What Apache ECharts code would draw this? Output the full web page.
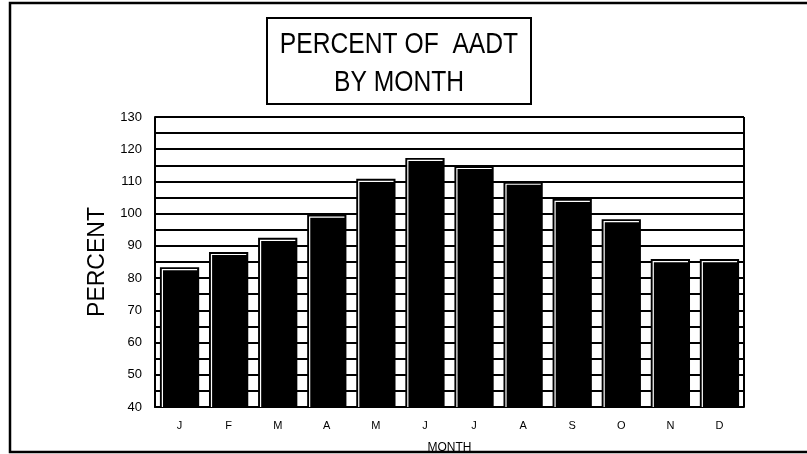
<!DOCTYPE html>
<html><head><meta charset="utf-8">
<script src="https://cdn.jsdelivr.net/npm/echarts@6/dist/echarts.min.js"></script>
<style>html,body{margin:0;padding:0;background:#fff}#c{width:807px;height:454px}</style>
</head><body><div id="c"></div>
<script>
const months = ['J','F','M','A','M','J','J','A','S','O','N','D'];
const percentValues = [83.4, 88.1, 92.5, 99.7, 110.8, 117.3, 114.8, 109.9, 104.6, 98.3, 85.9, 85.9];
const yMin = 40, yMax = 130, yStep = 5;
const titleLines = ['PERCENT OF  AADT', 'BY MONTH'];

const chart = echarts.init(document.getElementById('c'), null, {renderer:'canvas'});
const FONT = '"Liberation Sans", Arial, sans-serif';

function renderBar(params, api){
  const cat = api.value(0), v = api.value(1);
  const top = api.coord([cat, v]);
  const base = api.coord([cat, yMin]);
  const w = api.size([1,0])[0]*0.8;
  const x = top[0]-w/2, y = top[1], h = base[1]-top[1];
  return {type:'group', children:[
    {type:'rect', shape:{x:x, y:y, width:w, height:h}, style:{fill:'#000'}},
    {type:'polyline', shape:{points:[[x+2.5, base[1]], [x+2.5, y+2.5], [x+w-2, y+2.5]]},
     style:{stroke:'#fff', lineWidth:1.2, fill:null}}
  ]};
}

chart.setOption({
  animation:false,
  backgroundColor:'#fff',
  grid:{left:155, right:63, top:117, bottom:47, show:false, containLabel:false, outerBoundsMode:'none'},
  xAxis:{type:'category', data:months, boundaryGap:true,
    axisLine:{show:true, lineStyle:{color:'#000', width:2}}, axisTick:{show:false},
    axisLabel:{color:'#000', fontFamily:FONT, fontSize:11, margin:13},
    name:'MONTH', nameLocation:'middle', nameGap:35,
    nameTextStyle:{color:'#000', fontFamily:FONT, fontSize:12},
    splitLine:{show:false}},
  yAxis:{type:'value', min:yMin, max:yMax, interval:yStep,
    axisLine:{show:true, lineStyle:{color:'#000', width:2}}, axisTick:{show:false},
    axisLabel:{color:'#000', fontFamily:FONT, fontSize:13, margin:13,
      formatter:function(v){return v%10===0 ? String(v) : '';}},
    splitLine:{show:true, lineStyle:{color:'#000', width:2}},
    name:'PERCENT', nameLocation:'middle', nameRotate:90, nameGap:46,
    nameTextStyle:{color:'#000', fontFamily:FONT, fontSize:23}},
  series:[{type:'custom', renderItem:renderBar,
    data:months.map((m,i)=>[i, percentValues[i]]), encode:{x:0, y:1}, z:3}],
  graphic:[
    {type:'rect', shape:{x:10, y:3, width:830, height:449},
     style:{fill:null, stroke:'#000', lineWidth:2.5}, z:100},
    {type:'rect', shape:{x:267, y:18, width:264, height:86},
     style:{fill:'#fff', stroke:'#000', lineWidth:2}, z:90},
    {type:'line', shape:{x1:744, y1:117, x2:744, y2:407}, style:{stroke:'#000', lineWidth:2}, z:95},
    {type:'text', x:399, y:45, scaleX:0.85, style:{text:titleLines[0], font:'29px '+FONT, fill:'#000', textAlign:'center', textVerticalAlign:'middle'}, z:91},
    {type:'text', x:399, y:83, scaleX:0.85, style:{text:titleLines[1], font:'29px '+FONT, fill:'#000', textAlign:'center', textVerticalAlign:'middle'}, z:91}
  ]
});
</script></body></html>
